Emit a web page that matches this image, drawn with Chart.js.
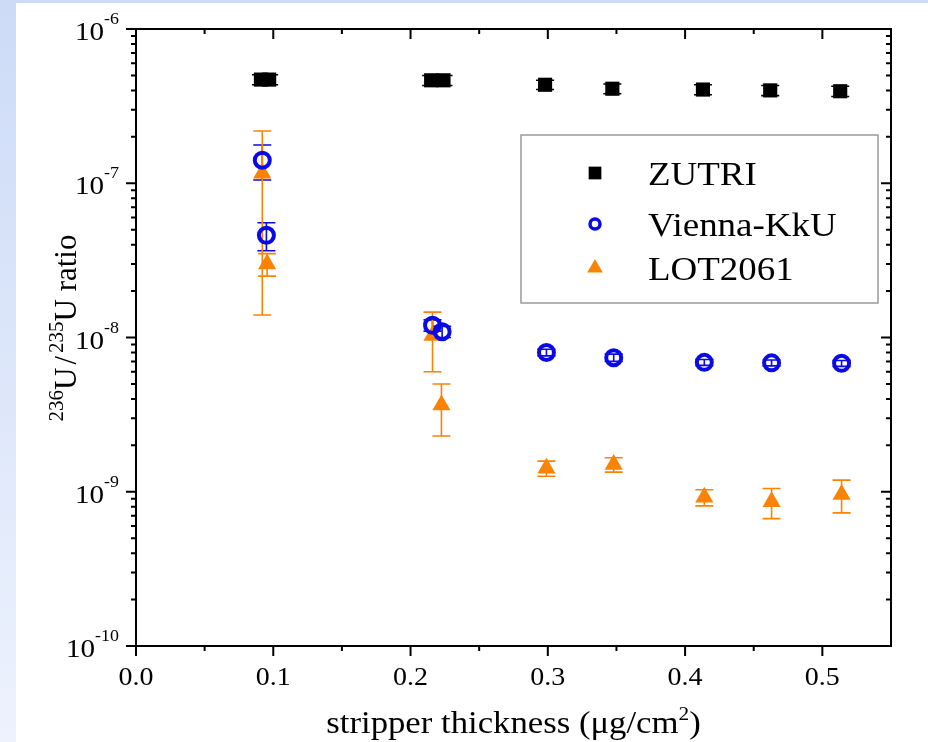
<!DOCTYPE html>
<html>
<head>
<meta charset="utf-8">
<script src="https://cdn.jsdelivr.net/npm/chart.js@4.4.1/dist/chart.umd.min.js"></script>
<style>
  html, body { margin: 0; padding: 0; background: #fff; }
  #wrap { width: 928px; height: 742px; }
</style>
</head>
<body>
<div id="wrap"><canvas id="chart" width="928" height="742"></canvas></div>
<script>
// data
const seriesNames = ["ZUTRI", "Vienna-KkU", "LOT2061"];

const zutriX = [0.091, 0.097, 0.215, 0.224, 0.298, 0.347, 0.413, 0.462, 0.513];
const zutriY = [4.7e-7, 4.7e-7, 4.65e-7, 4.65e-7, 4.35e-7, 4.1e-7, 4.05e-7, 4.0e-7, 3.95e-7];
const zutriErr = [3.5e-8, 3.5e-8, 3.5e-8, 3.5e-8, 3e-8, 3e-8, 3e-8, 3e-8, 3e-8];

const viennaX = [0.092, 0.095, 0.216, 0.223, 0.299, 0.348, 0.414, 0.463, 0.514];
const viennaY = [1.41e-7, 4.6e-8, 1.2e-8, 1.09e-8, 8.0e-9, 7.4e-9, 6.9e-9, 6.85e-9, 6.8e-9];
const viennaErr = [3.6e-8, 9.5e-9, 1.0e-9, 9e-10, 4e-10, 4e-10, 3e-10, 3e-10, 3e-10];

const lotX = [0.092, 0.0955, 0.216, 0.2225, 0.299, 0.348, 0.414, 0.463, 0.514];
const lotY = [1.16e-7, 3.0e-8, 1.03e-8, 3.65e-9, 1.42e-9, 1.5e-9, 9.2e-10, 8.6e-10, 9.6e-10];
const lotErr = [1.02e-7, 5e-9, 4.3e-9, 1.35e-9, 1.6e-10, 1.6e-10, 1.1e-10, 1.9e-10, 2.3e-10];

const xTicks = [0, 0.1, 0.2, 0.3, 0.4, 0.5];
const xMinor = [0.05, 0.15, 0.25, 0.35, 0.45];
const yDecades = [-10, -9, -8, -7, -6];

const BLUE = "#0a0ae6";
const ORANGE = "#fa8205";
const FONT = '"Liberation Serif", "DejaVu Serif", serif';
const SX = 1.12; // the original text is a bit wider than it is tall

function pts(xs, ys) {
  return xs.map((x, i) => ({ x: x, y: ys[i] }));
}

function txt(ctx, s, x, y, size, align) {
  ctx.save();
  ctx.font = size + "px " + FONT;
  ctx.textBaseline = "alphabetic";
  ctx.textAlign = align || "left";
  ctx.fillStyle = "#000";
  ctx.translate(x, y);
  ctx.scale(SX, 1);
  ctx.fillText(s, 0, 0);
  ctx.restore();
}

function tw(ctx, s, size) {
  ctx.save();
  ctx.font = size + "px " + FONT;
  const w = ctx.measureText(s).width * SX;
  ctx.restore();
  return w;
}

// page background with the light blue strips at left and top
const bgPlugin = {
  id: "bg",
  beforeDraw(chart) {
    const ctx = chart.ctx;
    ctx.save();
    ctx.fillStyle = "#fff";
    ctx.fillRect(0, 0, chart.width, chart.height);
    const g = ctx.createLinearGradient(0, 0, 0, chart.height);
    g.addColorStop(0, "#cddbf7");
    g.addColorStop(1, "#edf2fd");
    ctx.fillStyle = g;
    ctx.fillRect(0, 0, 16, chart.height);
    ctx.fillStyle = "#cddbf7";
    ctx.fillRect(0, 0, chart.width, 3);
    ctx.restore();
  }
};

// vertical error bars, drawn below the markers
const errPlugin = {
  id: "errbars",
  beforeDatasetsDraw(chart) {
    const ctx = chart.ctx;
    const xs = chart.scales.x, ys = chart.scales.y;
    ctx.save();
    chart.data.datasets.forEach(ds => {
      ctx.strokeStyle = ds.errColor;
      ctx.lineWidth = 1.6;
      ds.data.forEach((p, i) => {
        const e = ds.errors[i];
        const px = xs.getPixelForValue(p.x);
        const top = ys.getPixelForValue(p.y + e);
        const bot = ys.getPixelForValue(Math.max(p.y - e, 1e-11));
        ctx.beginPath();
        ctx.moveTo(px, top); ctx.lineTo(px, bot);
        ctx.moveTo(px - 9, top); ctx.lineTo(px + 9, top);
        ctx.moveTo(px - 9, bot); ctx.lineTo(px + 9, bot);
        ctx.stroke();
      });
    });
    ctx.restore();
  }
};

// frame, ticks, labels, titles and legend
const axesPlugin = {
  id: "axes",
  afterDatasetsDraw(chart) {
    const ctx = chart.ctx;
    const a = chart.chartArea;
    const xs = chart.scales.x, ys = chart.scales.y;
    ctx.save();
    ctx.strokeStyle = "#000";
    ctx.lineWidth = 2;
    ctx.strokeRect(a.left, a.top, a.right - a.left, a.bottom - a.top);

    ctx.beginPath();
    xTicks.forEach(v => {
      const px = xs.getPixelForValue(v);
      ctx.moveTo(px, a.bottom); ctx.lineTo(px, a.bottom + 10);
      ctx.moveTo(px, a.top); ctx.lineTo(px, a.top + 10);
    });
    xMinor.forEach(v => {
      const px = xs.getPixelForValue(v);
      ctx.moveTo(px, a.bottom); ctx.lineTo(px, a.bottom + 5);
      ctx.moveTo(px, a.top); ctx.lineTo(px, a.top + 5);
    });
    yDecades.forEach(d => {
      const py = ys.getPixelForValue(Math.pow(10, d));
      ctx.moveTo(a.left - 10, py); ctx.lineTo(a.left, py);
      ctx.moveTo(a.right - 10, py); ctx.lineTo(a.right, py);
      if (d < -6) {
        for (let m = 2; m <= 9; m++) {
          const pm = ys.getPixelForValue(m * Math.pow(10, d));
          ctx.moveTo(a.left - 5, pm); ctx.lineTo(a.left, pm);
          ctx.moveTo(a.right - 5, pm); ctx.lineTo(a.right, pm);
        }
      }
    });
    ctx.stroke();

    // tick labels
    xTicks.forEach(v => {
      txt(ctx, v.toFixed(1), xs.getPixelForValue(v), a.bottom + 39, 25, "center");
    });
    yDecades.forEach(d => {
      const py = ys.getPixelForValue(Math.pow(10, d));
      const sup = String(d);
      const sw = tw(ctx, sup, 16);
      txt(ctx, sup, 119, py - 5, 16, "right");
      txt(ctx, "10", 119 - sw, py + 11, 26, "right");
    });

    // x title
    const t1 = "stripper thickness (\u03bcg/cm", t2 = "2", t3 = ")";
    const w1 = tw(ctx, t1, 31), w2 = tw(ctx, t2, 19), w3 = tw(ctx, t3, 31);
    let tx = (a.left + a.right) / 2 - (w1 + w2 + w3) / 2;
    txt(ctx, t1, tx, 733, 31); tx += w1;
    txt(ctx, t2, tx, 720, 19); tx += w2;
    txt(ctx, t3, tx, 733, 31);

    // y title, rotated
    ctx.save();
    ctx.translate(76, 0);
    ctx.rotate(-Math.PI / 2);
    // [text, size, raise, gap after]
    const parts = [["236", 21, -13, 0], ["U", 31, 0, 3], ["/", 31, 0, 3], ["235", 21, -13, 0], ["U ratio", 31, 0, 0]];
    let total = 0;
    parts.forEach(p => {
      ctx.font = p[1] + "px " + FONT;
      total += ctx.measureText(p[0]).width + p[3];
    });
    let ty = -328 - total / 2;
    ctx.fillStyle = "#000";
    ctx.textBaseline = "alphabetic";
    parts.forEach(p => {
      ctx.font = p[1] + "px " + FONT;
      ctx.fillText(p[0], ty, p[2]);
      ty += ctx.measureText(p[0]).width + p[3];
    });
    ctx.restore();

    // legend
    ctx.strokeStyle = "#9a9a9a";
    ctx.lineWidth = 1.5;
    ctx.strokeRect(521, 135, 357, 168);
    const rows = [173, 224, 268];
    chart.data.datasets.forEach((ds, i) => {
      const style = { pointStyle: ds.pointStyle, rotation: 0, borderWidth: ds.legendBorder, radius: ds.legendRadius };
      ctx.fillStyle = ds.backgroundColor;
      ctx.strokeStyle = ds.borderColor;
      ctx.lineWidth = ds.legendBorder;
      Chart.helpers.drawPoint(ctx, style, 595, rows[i]);
      txt(ctx, seriesNames[i], 648, rows[i] + 12, 33);
    });
    ctx.restore();
  }
};

new Chart(document.getElementById("chart"), {
  type: "scatter",
  data: {
    datasets: [
      {
        label: seriesNames[0],
        data: pts(zutriX, zutriY),
        errors: zutriErr,
        errColor: "#000",
        pointStyle: "rect",
        pointRadius: 10,
        backgroundColor: "#000",
        borderColor: "#000",
        borderWidth: 0,
        legendRadius: 9,
        legendBorder: 0
      },
      {
        label: seriesNames[1],
        data: pts(viennaX, viennaY),
        errors: viennaErr,
        errColor: BLUE,
        pointStyle: "circle",
        pointRadius: 7.5,
        backgroundColor: "rgba(0,0,0,0)",
        borderColor: BLUE,
        borderWidth: 4,
        legendRadius: 5,
        legendBorder: 3.5
      },
      {
        label: seriesNames[2],
        data: pts(lotX, lotY),
        errors: lotErr,
        errColor: ORANGE,
        pointStyle: "triangle",
        pointRadius: 10.5,
        backgroundColor: ORANGE,
        borderColor: ORANGE,
        borderWidth: 0,
        legendRadius: 9,
        legendBorder: 0
      }
    ]
  },
  options: {
    responsive: false,
    animation: false,
    layout: { padding: { left: 136, top: 29, right: 37, bottom: 96 } },
    plugins: { legend: { display: false }, tooltip: { enabled: false } },
    scales: {
      x: { type: "linear", min: 0, max: 0.55, display: false },
      y: { type: "logarithmic", min: 1e-10, max: 1e-6, display: false }
    }
  },
  plugins: [bgPlugin, errPlugin, axesPlugin]
});
</script>
</body>
</html>
